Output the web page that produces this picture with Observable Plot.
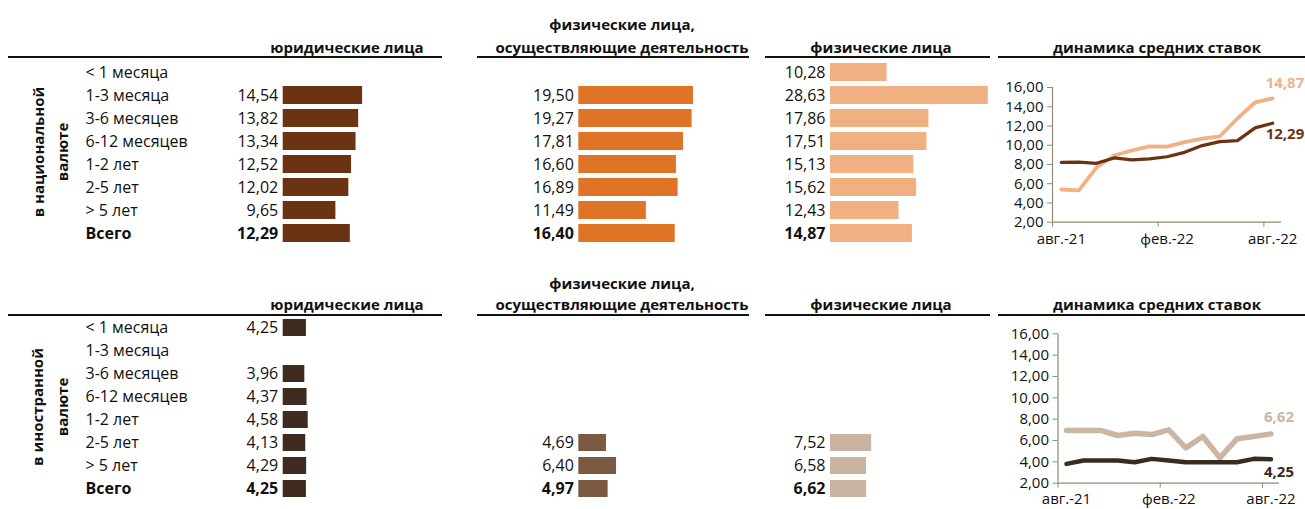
<!DOCTYPE html>
<html><head><meta charset="utf-8">
<script src="https://cdn.jsdelivr.net/npm/d3@7"></script>
<script src="https://cdn.jsdelivr.net/npm/@observablehq/plot@0.6"></script>
<style>
body{margin:0;background:#fff;}
#root{position:relative;width:1305px;height:509px;overflow:hidden;font-family:"Open Sans",sans-serif;color:#111;}
.panel{position:absolute;}
.hdr{position:absolute;font-weight:bold;font-size:15px;white-space:nowrap;transform:translate(-50%,-50%);line-height:1;}
.rule{position:absolute;height:1.5px;background:#111;}
.vlab{position:absolute;font-weight:bold;font-size:15px;white-space:nowrap;transform:translate(-50%,-50%) rotate(-90deg);line-height:1;}
</style></head><body><div id="root"></div>
<script>
// ---------- data ----------
const categories = ["< 1 месяца","1-3 месяца","3-6 месяцев","6-12 месяцев","1-2 лет","2-5 лет","> 5 лет","Всего"];
const totalLabel = "Всего";
const natLegal        = [null,14.54,13.82,13.34,12.52,12.02,9.65,12.29];
const natEntrepreneur = [null,19.50,19.27,17.81,16.60,16.89,11.49,16.40];
const natIndividual   = [10.28,28.63,17.86,17.51,15.13,15.62,12.43,14.87];
const forLegal        = [4.25,null,3.96,4.37,4.58,4.13,4.29,4.25];
const forEntrepreneur = [null,null,null,null,null,4.69,6.40,4.97];
const forIndividual   = [null,null,null,null,null,7.52,6.58,6.62];

const months = ["авг.-21","сен.-21","окт.-21","ноя.-21","дек.-21","янв.-22","фев.-22","мар.-22","апр.-22","май-22","июн.-22","июл.-22","авг.-22"];
const monthTickLabels = ["авг.-21","фев.-22","авг.-22"];
const yTicks = [2,4,6,8,10,12,14,16];
const natLegalDyn      = [8.22,8.25,8.12,8.68,8.47,8.58,8.8,9.26,9.96,10.37,10.48,11.8,12.29];
const natIndividualDyn = [5.4,5.3,7.7,8.93,9.45,9.88,9.85,10.33,10.68,10.93,12.78,14.46,14.87];
const forLegalDyn      = [3.81,4.13,4.13,4.13,3.97,4.28,4.13,3.97,3.97,3.97,3.97,4.28,4.25];
const forIndividualDyn = [6.94,6.94,6.94,6.47,6.69,6.56,7.0,5.31,6.38,4.38,6.16,6.38,6.62];

const headersTop = ["юридические лица","физические лица,","осуществляющие деятельность","физические лица","динамика средних ставок"];
const sectionLabels = [["в национальной","валюте"],["в иностранной","валюте"]];

// ---------- helpers ----------
const root = document.getElementById("root");
const FONT = "Open Sans";
const fmt = v => d3.format(".2f")(v).replace(".", ",");

function place(el, left, top, w, h) {
  const d = document.createElement("div");
  d.className = "panel";
  d.style.left = left + "px"; d.style.top = top + "px";
  if (w) d.style.width = w + "px";
  if (h) d.style.height = h + "px";
  d.appendChild(el);
  root.appendChild(d);
  return d;
}
function html(cls, text, x, y) {
  const d = document.createElement("div");
  d.className = cls; d.textContent = text;
  d.style.left = x + "px"; d.style.top = y + "px";
  root.appendChild(d);
}
function rule(x1, x2, y) {
  const d = document.createElement("div");
  d.className = "rule";
  d.style.left = x1 + "px"; d.style.top = y + "px"; d.style.width = (x2 - x1) + "px";
  root.appendChild(d);
}

function barPanel({values, color, left, top, width, height, x0, k, c0, step, pad, showCats}) {
  const data = categories.map((c, i) => ({cat: c, v: values[i]})).filter(d => d.v != null);
  const n = categories.length;
  const maxV = (width - x0) / k;
  const marks = [
    Plot.barX(data, {x: "v", y: "cat", fill: color}),
    Plot.text(data.filter(d => d.cat !== totalLabel), {x: 0, y: "cat", text: d => fmt(d.v), textAnchor: "end", dx: -5, fill: "#111"}),
    Plot.text(data.filter(d => d.cat === totalLabel), {x: 0, y: "cat", text: d => fmt(d.v), textAnchor: "end", dx: -5, fill: "#111", fontWeight: "bold"})
  ];
  if (showCats) {
    marks.push(Plot.text(categories.filter(c => c !== totalLabel), {y: d => d, text: d => d, frameAnchor: "left", dx: 85, textAnchor: "start", fill: "#111"}));
    marks.push(Plot.text([totalLabel], {y: d => d, text: d => d, frameAnchor: "left", dx: 85, textAnchor: "start", fill: "#111", fontWeight: "bold"}));
  }
  const svg = Plot.plot({
    width, height, margin: 0,
    style: {background: "transparent", fontFamily: FONT, fontSize: "16px", overflow: "visible"},
    x: {type: "linear", domain: [0, maxV], range: [x0, width], axis: null},
    y: {type: "band", domain: categories, range: [c0 - step / 2, c0 + (n - 0.5) * step], paddingInner: pad, paddingOuter: pad / 2, axis: null},
    marks
  });
  place(svg, left, top, width, height);
}

function lineChart({series, left, top, width, height, mL, mR, mT, mB, labelPad, axisColor}) {
  const idx = months.map((m, i) => i);
  const marks = [
    Plot.ruleY([2], {stroke: axisColor, strokeWidth: 1.2}),
    Plot.ruleX([-0.5], {stroke: axisColor, strokeWidth: 1.2}),
    Plot.axisY({ticks: yTicks, tickFormat: fmt, tickSize: 5, tickPadding: 4, stroke: axisColor, fill: "#111", fontSize: 15, label: null}),
    Plot.axisX({ticks: [-0.5, 5.5, 11.5], tickFormat: () => "", tickSize: 5, stroke: axisColor, label: null}),
    Plot.axisX({ticks: monthTickLabels.map(l => months.indexOf(l)), tickFormat: i => months[i], tickSize: 0, tickPadding: labelPad, fill: "#111", fontSize: 15, label: null})
  ];
  for (const s of series) {
    const data = idx.map(i => ({i, v: s.values[i]}));
    marks.push(Plot.line(data, {x: "i", y: "v", stroke: s.color, strokeWidth: s.width, curve: "linear", strokeLinejoin: "round", strokeLinecap: "round"}));
    marks.push(Plot.text([data[data.length - 1]], {x: "i", y: "v", text: d => fmt(d.v), fill: s.color, fontWeight: "bold", fontSize: 15, textAnchor: "start", dx: -7, dy: s.dy}));
  }
  const svg = Plot.plot({
    width, height, marginLeft: mL, marginRight: mR, marginTop: mT, marginBottom: mB,
    style: {background: "transparent", fontFamily: FONT, overflow: "visible"},
    x: {type: "linear", domain: [-0.5, 12.5], axis: null, label: null},
    y: {type: "linear", domain: [2, 16], axis: null, label: null},
    marks
  });
  place(svg, left, top, width, height);
}

// ---------- headers & rules ----------
function headers(yLine, yText, y1) {
  rule(8, 442, yLine); rule(477, 749, yLine); rule(765, 990, yLine); rule(998, 1310, yLine);
  html("hdr", headersTop[0], 347, yText);
  html("hdr", headersTop[1], 622, y1);
  html("hdr", headersTop[2], 622, yText);
  html("hdr", headersTop[3], 881, yText);
  html("hdr", headersTop[4], 1157, yText);
}
headers(56, 47, 24);
headers(314, 304, 283);
html("vlab", sectionLabels[0][0], 38, 152);
html("vlab", sectionLabels[0][1], 62, 152);
html("vlab", sectionLabels[1][0], 37, 407);
html("vlab", sectionLabels[1][1], 62, 407);

// ---------- top section ----------
const topRows = {c0: 68.5, step: 23.9, pad: 0.23};
barPanel({values: natLegal, color: "#6B3312", left: 0, top: 0, width: 440, height: 260, x0: 282.7, k: 5.46, showCats: true, ...topRows});
barPanel({values: natEntrepreneur, color: "#E07426", left: 445, top: 0, width: 320, height: 260, x0: 133.3, k: 5.88, ...topRows});
barPanel({values: natIndividual, color: "#F1B082", left: 770, top: 0, width: 230, height: 260, x0: 60, k: 5.51, ...topRows});

// ---------- bottom section ----------
const botRows = {c0: 66, step: 23.55, pad: 0.25};
barPanel({values: forLegal, color: "#3F2B20", left: 0, top: 260, width: 440, height: 249, x0: 282.7, k: 5.46, showCats: true, ...botRows});
barPanel({values: forEntrepreneur, color: "#7C5A42", left: 445, top: 260, width: 320, height: 249, x0: 133.3, k: 5.9, ...botRows});
barPanel({values: forIndividual, color: "#CBB3A1", left: 770, top: 260, width: 230, height: 249, x0: 60, k: 5.47, ...botRows});

// ---------- line charts ----------
lineChart({
  left: 985, top: 60, width: 320, height: 195, mL: 67, mR: 24, mT: 27, mB: 33.3, labelPad: 11, axisColor: "#8C8C74",
  series: [
    {values: natIndividualDyn, color: "#F2B184", width: 3.8, dy: -15},
    {values: natLegalDyn, color: "#6B3312", width: 3.2, dy: 11}
  ]
});
lineChart({
  left: 985, top: 318, width: 320, height: 191, mL: 72.5, mR: 26, mT: 15.3, mB: 26.3, labelPad: 10, axisColor: "#8C8C74",
  series: [
    {values: forIndividualDyn, color: "#CBB5A3", width: 5.5, dy: -17},
    {values: forLegalDyn, color: "#3B2A1E", width: 4.5, dy: 13}
  ]
});
</script></body></html>
